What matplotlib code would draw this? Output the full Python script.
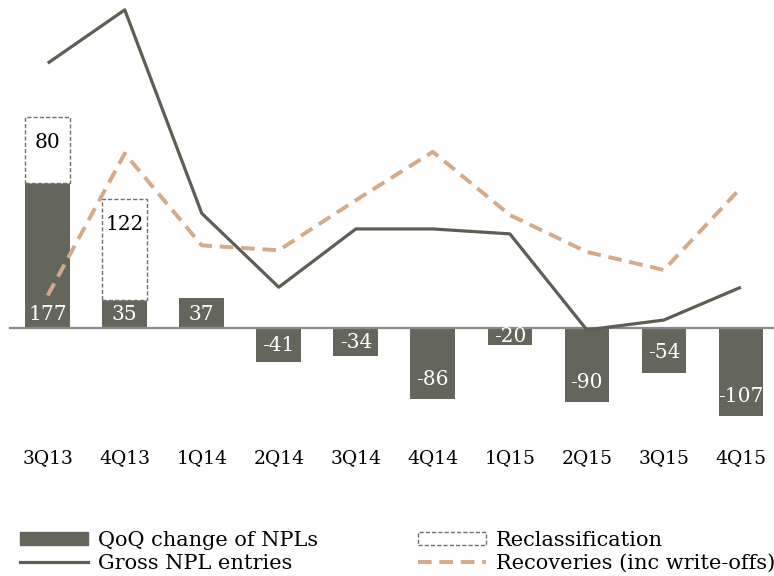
import matplotlib
matplotlib.use("Agg")
import matplotlib.pyplot as plt
from matplotlib.patches import Patch
from matplotlib.lines import Line2D
import numpy as np

plt.rcParams['font.family'] = ['DejaVu Serif']

quarters = ["3Q13", "4Q13", "1Q14", "2Q14", "3Q14", "4Q14", "1Q15", "2Q15", "3Q15", "4Q15"]
qoq_change = [177, 35, 37, -41, -34, -86, -20, -90, -54, -107]
reclassification = [80, 122, 0, 0, 0, 0, 0, 0, 0, 0]
gross_npl_entries = [323, 388, 140, 50, 121, 121, 115, -2, 10, 50]
recoveries = [40, 213, 101, 95, 156, 215, 138, 93, 71, 171]

bar_color = '#65665B'
line_color = '#5E5F54'
rec_color = '#D4AA88'
zero_color = '#8A8A8A'

fig = plt.figure(figsize=(7.74, 5.76), dpi=100)
ax = fig.add_axes([0.0, 1 - 430 / 576, 1.0, 430 / 576])
x = np.arange(len(quarters))
ax.set_xlim(-0.62, 9.43)
ax.set_ylim(-124, 400)

ax.bar(x, qoq_change, width=0.58, color=bar_color, zorder=2)
rec_idx = [i for i, r in enumerate(reclassification) if r]
ax.bar([x[i] for i in rec_idx], [reclassification[i] for i in rec_idx], width=0.58,
       bottom=[qoq_change[i] for i in rec_idx], facecolor='white', edgecolor='#6E6E6E',
       linestyle=(0, (3, 1.5)), linewidth=1.0, zorder=2)

ax.axhline(0, color=zero_color, linewidth=1.6, zorder=3, xmin=0.013)

ax.plot(x, gross_npl_entries, color=line_color, linewidth=2.3, zorder=4, solid_capstyle='butt')
ax.plot(x, recoveries, color=rec_color, linewidth=2.8, linestyle=(0, (3.5, 2)), zorder=4)

for i, v in enumerate(qoq_change):
    if v >= 0:
        y = 17
    else:
        y = min(v / 2, v + 24)
    ax.text(x[i], y, f"{v}", color='white', ha='center', va='center', fontsize=14.5, zorder=5)
for i in rec_idx:
    top = qoq_change[i] + reclassification[i]
    ax.text(x[i], top - 31, f"{reclassification[i]}", color='black', ha='center', va='center',
            fontsize=14.5, zorder=5)

ax.set_xticks(x)
ax.set_xticklabels(quarters, fontsize=13.5)
ax.tick_params(axis='x', length=0, pad=13.5)
ax.set_yticks([])
for s in ax.spines.values():
    s.set_visible(False)

handles = [
    Patch(facecolor=bar_color, edgecolor=bar_color),
    Line2D([0], [0], color=line_color, linewidth=2.3),
    Patch(facecolor='white', edgecolor='#6E6E6E', linestyle=(0, (3, 1.5)), linewidth=1.0),
    Line2D([0], [0], color=rec_color, linewidth=2.8, linestyle=(0, (3.5, 2))),
]
labels = ["QoQ change of NPLs", "Gross NPL entries", "Reclassification", "Recoveries (inc write-offs)"]
fig.legend(handles, labels, ncol=2, loc='upper left', bbox_to_anchor=(20 / 774, 1 - 531 / 576),
           frameon=False, fontsize=15, handlelength=3.26, handleheight=0.6, handletextpad=0.48,
           columnspacing=4.8, labelspacing=0.2, borderpad=0, borderaxespad=0)

fig.savefig("out.png", dpi=100)
